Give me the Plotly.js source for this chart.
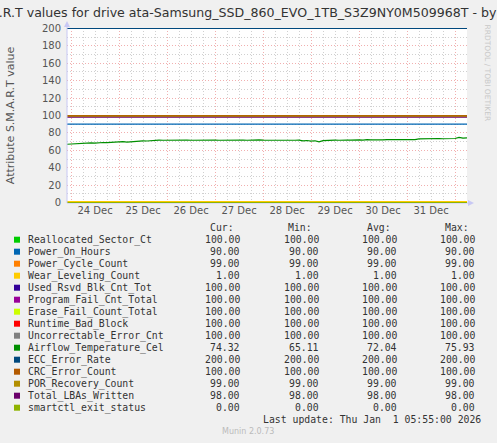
<!DOCTYPE html>
<html>
<head>
<meta charset="utf-8">
<script src="https://cdn.plot.ly/plotly-3.0.1.min.js"></script>
<style>
html,body{margin:0;padding:0;background:#f0f0f0;}
#chart{width:497px;height:443px;}
</style>
</head>
<body>
<div id="chart"></div>
<script>
// ---- data ----
const seriesNames = ["Reallocated_Sector_Ct","Power_On_Hours","Power_Cycle_Count","Wear_Leveling_Count",
  "Used_Rsvd_Blk_Cnt_Tot","Program_Fail_Cnt_Total","Erase_Fail_Count_Total","Runtime_Bad_Block",
  "Uncorrectable_Error_Cnt","Airflow_Temperature_Cel","ECC_Error_Rate","CRC_Error_Count",
  "POR_Recovery_Count","Total_LBAs_Written","smartctl_exit_status"];
const curVals = [100,90,99,1,100,100,100,100,100,74.32,200,100,99,98,0];
const minVals = [100,90,99,1,100,100,100,100,100,65.11,200,100,99,98,0];
const avgVals = [100,90,99,1,100,100,100,100,100,72.04,200,100,99,98,0];
const maxVals = [100,90,99,1,100,100,100,100,100,75.93,200,100,99,98,0];
const colours = ["#00CC00","#0066B3","#FF8000","#FFCC00","#330099","#990099","#CCFF00","#FF0000",
  "#808080","#008F00","#00487D","#B35A00","#B38F00","#6B006B","#8FB300"];
// Airflow temperature, one sample every 2 hours from 23 Dec 22:00
const temperature = [67.0,67.3,67.8,68.2,67.9,68.4,68.6,68.3,68.8,69.0,68.8,69.2,69.4,
  69.6,69.9,69.5,70.0,70.3,70.6,70.9,70.7,71.2,
  71.5,71.8,71.6,71.7,71.9,71.6,72.3,71.7,71.8,71.6,71.7,72.1,71.8,71.7,72.4,71.8,71.6,71.7,71.9,71.8,72.2,71.7,71.8,71.6,71.9,71.7,72.1,71.8,71.7,
  71.7,71.8,71.6,71.7,71.9,71.7,71.6,71.8,
  70.9,71.3,70.6,71.0,69.8,
  71.2,71.6,71.7,71.8,71.6,72.0,71.7,71.8,72.2,71.9,71.7,72.3,72.0,71.8,72.1,
  72.0,72.3,72.1,72.6,72.2,72.4,72.1,72.5,72.3,
  73.1,73.3,73.0,73.4,73.2,73.6,73.3,73.5,74.0,73.6,74.8,74.0,74.3];
const startTime = "2025-12-23 22:00:00";
const endTime = "2026-01-01 06:00:00";
const stepHours = 2;
const titleText = "S.M.A.R.T values for drive ata-Samsung_SSD_860_EVO_1TB_S3Z9NY0M509968T - by week";
const yTitle = "Attribute S.M.A.R.T value";
const lastUpdate = "Last update: Thu Jan  1 05:55:00 2026";

// ---- helpers ----
function fmt(ms){ return new Date(ms).toISOString().slice(0,19).replace('T',' '); }
const t0 = Date.parse(startTime.replace(' ','T')+'Z');
const tempX = temperature.map((v,i)=>fmt(t0 + i*stepHours*3600000));

const W=497,H=443,L=67,R=467,T=28,B=203;
const px = x => (x-L)/(R-L);
const py = y => (B-y)/(B-T);

const traces = seriesNames.map((n,i)=>{
  const isTemp = n==="Airflow_Temperature_Cel";
  return {
    type:'scatter', mode:'lines', name:n,
    x: isTemp ? tempX : [startTime,endTime],
    y: isTemp ? temperature : [curVals[i],curVals[i]],
    line:{color:colours[i],width:1.2},
    hoverinfo:'skip'
  };
});

const mono = {family:"DejaVu Sans Mono", size:9.8, color:"#333"};
const ann = [];
const shapes = [];
const rowY0 = 239.7, rowDy = 12;
const colRight = [241.5,320.5,399,476.5];
const heads = ["Cur:","Min:","Avg:","Max:"];
const headRight = [235.5,314,392.5,471];
heads.forEach((h,j)=>ann.push({xref:'paper',yref:'paper',x:px(headRight[j]),y:py(227.7),text:h,showarrow:false,
  xanchor:'right',yanchor:'middle',font:mono}));
seriesNames.forEach((n,i)=>{
  const y = rowY0 + i*rowDy;
  shapes.push({type:'rect',xref:'paper',yref:'paper',x0:px(14),x1:px(20),y0:py(y+3),y1:py(y-3),
    fillcolor:colours[i],line:{width:0}});
  ann.push({xref:'paper',yref:'paper',x:px(25.5),y:py(y),text:n,showarrow:false,xanchor:'left',yanchor:'middle',font:mono});
  [curVals,minVals,avgVals,maxVals].forEach((arr,j)=>{
    ann.push({xref:'paper',yref:'paper',x:px(colRight[j]),y:py(y),text:arr[i].toFixed(2),showarrow:false,
      xanchor:'right',yanchor:'middle',font:mono});
  });
});
ann.push({xref:'paper',yref:'paper',x:px(483),y:py(419.3),text:lastUpdate.replace(/  /g,' &nbsp;'),showarrow:false,
  xanchor:'right',yanchor:'middle',font:mono});
ann.push({xref:'paper',yref:'paper',x:px(248),y:py(431.7),text:"Munin 2.0.73",showarrow:false,
  xanchor:'center',yanchor:'middle',font:{family:"DejaVu Sans",size:8,color:"#bbbbbb"}});
ann.push({xref:'paper',yref:'paper',x:px(487),y:py(22),text:"RRDTOOL / TOBI OETIKER",showarrow:false,textangle:90,
  xanchor:'center',yanchor:'top',font:{family:"DejaVu Sans",size:7.5,color:"#c8c8c8"}});

// axis lines and arrows
const axCol = "#c8c8f4";
shapes.push({type:'line',xref:'paper',yref:'paper',x0:0,x1:0,y0:0,y1:py(24),line:{color:axCol,width:1}});
shapes.push({type:'path',xref:'paper',yref:'paper',
  path:`M ${px(64)} ${py(27)} L ${px(70)} ${py(27)} L ${px(67)} ${py(21)} Z`,fillcolor:axCol,line:{width:0}});
shapes.push({type:'line',xref:'paper',yref:'paper',x0:0,x1:px(470),y0:0,y1:0,line:{color:axCol,width:1},layer:'below'});
shapes.push({type:'path',xref:'paper',yref:'paper',
  path:`M ${px(468)} ${py(200)} L ${px(468)} ${py(206)} L ${px(474)} ${py(203)} Z`,fillcolor:axCol,line:{width:0}});

const majorGrid = "rgba(230,110,110,0.55)";
const minorGrid = "rgba(150,150,150,0.45)";
const layout = {
  width:W,height:H,
  paper_bgcolor:'#f0f0f0',plot_bgcolor:'#ffffff',
  margin:{l:L,r:W-R,t:T,b:H-B,pad:0},
  showlegend:false,
  title:{text:titleText,x:0.5,xref:'container',xanchor:'center',y:1-13/H,yref:'container',yanchor:'middle',
    font:{family:"DejaVu Sans",size:12.6,color:"#333"}},
  xaxis:{type:'date',range:[startTime,endTime],tick0:'2025-12-24',dtick:86400000,tickformat:'%d %b',
    ticklabelmode:'period',showgrid:true,gridcolor:majorGrid,griddash:'1px,2px',gridwidth:1,
    minor:{dtick:6*3600000,showgrid:true,gridcolor:minorGrid,griddash:'1px,2px',gridwidth:1},
    showline:false,zeroline:false,ticks:'',
    tickfont:{family:"DejaVu Sans",size:10,color:"#555"},fixedrange:true},
  yaxis:{range:[-0.5,200.5],dtick:20,tick0:0,showgrid:true,gridcolor:majorGrid,griddash:'1px,2px',gridwidth:1,
    minor:{dtick:10,showgrid:true,gridcolor:minorGrid,griddash:'1px,2px',gridwidth:1},
    zeroline:false,showline:false,ticks:'',ticklabelstandoff:5,
    tickfont:{family:"DejaVu Sans",size:10,color:"#555"},
    title:{text:yTitle,standoff:25,font:{family:"DejaVu Sans",size:11,color:"#555"}},fixedrange:true},
  annotations:ann,shapes:shapes
};
Plotly.newPlot('chart',traces,layout,{staticPlot:true,displayModeBar:false});
</script>
</body>
</html>
